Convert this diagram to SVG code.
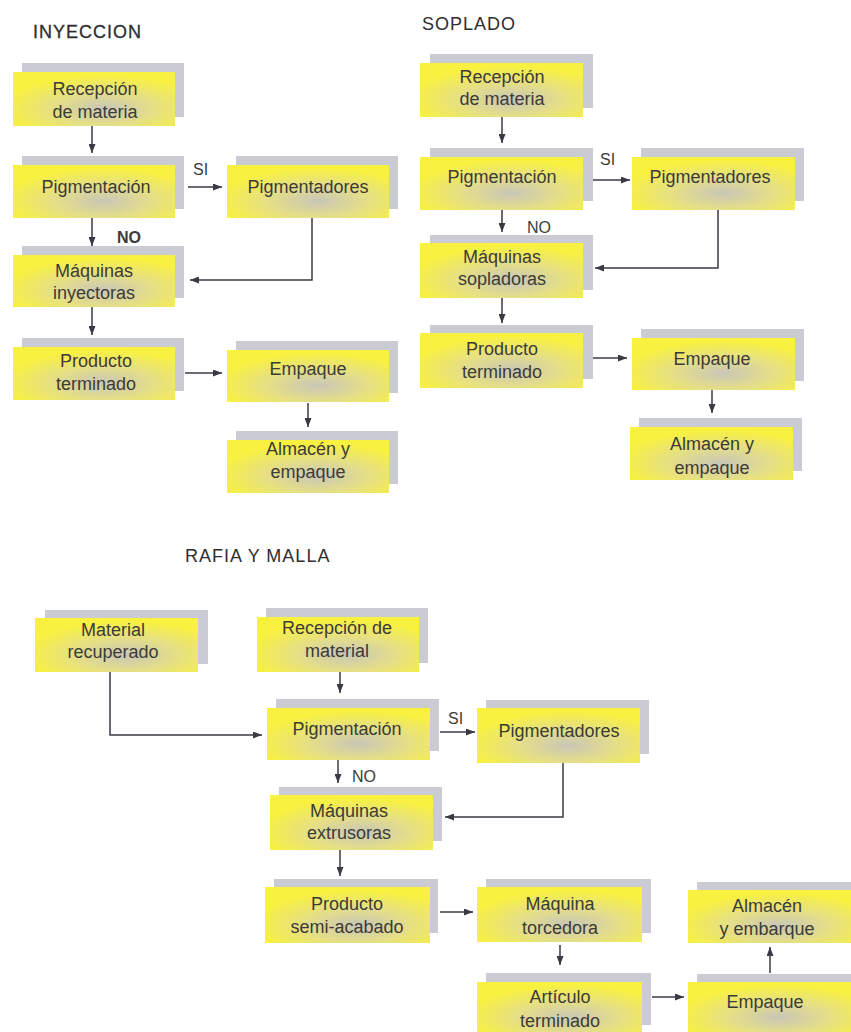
<svg xmlns="http://www.w3.org/2000/svg" width="851" height="1032" viewBox="0 0 851 1032">
<style>
.bk{fill:#cbcbd3}
.fr{fill:url(#yg)}
.t{font-family:"Liberation Sans",Arial,sans-serif;font-size:18px;fill:#3b3b38;text-anchor:middle}
.ttl{font-family:"Liberation Sans",Arial,sans-serif;font-size:18px;fill:#2e2e2e;letter-spacing:1px}
.lb{font-family:"Liberation Sans",Arial,sans-serif;font-size:16px;fill:#3b3b3b}
.c{fill:none;stroke:#3a3a44;stroke-width:1.5}
.a{marker-end:url(#ah)}
</style>
<defs>
<radialGradient id="yg" cx="0.56" cy="0.68" r="0.62">
<stop offset="0" stop-color="#c9c6b8"/>
<stop offset="0.5" stop-color="#e5df86"/>
<stop offset="1" stop-color="#f8f140"/>
</radialGradient>
<marker id="ah" markerWidth="9" markerHeight="7" refX="9" refY="3.5" orient="auto" markerUnits="userSpaceOnUse">
<path d="M0,0 L9,3.5 L0,7 z" fill="#3a3a44"/>
</marker>
</defs>
<rect width="851" height="1032" fill="#ffffff"/>

<text class="ttl" x="33" y="38" style="stroke:#2e2e2e;stroke-width:0.3">INYECCION</text>
<text class="ttl" x="422" y="30">SOPLADO</text>
<text class="ttl" x="185" y="562">RAFIA Y MALLA</text>

<g id="connectors">
<line class="c a" x1="92" y1="126" x2="92" y2="153"/>
<line class="c a" x1="188" y1="187" x2="222" y2="187"/>
<line class="c a" x1="92" y1="218" x2="92" y2="246"/>
<polyline class="c a" points="312,218 312,280 190,280"/>
<line class="c a" x1="92" y1="307" x2="92" y2="335"/>
<line class="c a" x1="185" y1="373" x2="222" y2="373"/>
<line class="c a" x1="308" y1="403" x2="308" y2="427"/>

<line class="c a" x1="502" y1="117" x2="502" y2="143"/>
<line class="c a" x1="593" y1="180" x2="630" y2="180"/>
<line class="c a" x1="502" y1="210" x2="502" y2="232"/>
<polyline class="c a" points="718,210 718,268 595,268"/>
<line class="c a" x1="502" y1="298" x2="502" y2="323"/>
<line class="c a" x1="593" y1="358" x2="627" y2="358"/>
<line class="c a" x1="712" y1="390" x2="712" y2="413"/>

<line class="c a" x1="340" y1="672" x2="340" y2="693"/>
<polyline class="c a" points="110,672 110,735 262,735"/>
<line class="c a" x1="440" y1="732" x2="475" y2="732"/>
<line class="c a" x1="338" y1="760" x2="338" y2="783"/>
<polyline class="c a" points="563,763 563,817 445,817"/>
<line class="c a" x1="340" y1="850" x2="340" y2="876"/>
<line class="c a" x1="440" y1="912" x2="473" y2="912"/>
<line class="c a" x1="560" y1="945" x2="560" y2="965"/>
<line class="c a" x1="652" y1="997" x2="684" y2="997"/>
<line class="c a" x1="770" y1="973" x2="770" y2="947"/>
</g>

<g id="labels">
<text class="lb" x="193" y="175">SI</text>
<text class="lb" x="117" y="243" style="font-weight:bold">NO</text>
<text class="lb" x="600" y="165">SI</text>
<text class="lb" x="527" y="233">NO</text>
<text class="lb" x="448" y="724">SI</text>
<text class="lb" x="352" y="782">NO</text>
</g>

<g id="i-recepcion"><rect class="bk" x="22" y="63" width="162" height="54"/><rect class="fr" x="13" y="72" width="162" height="54"/><text class="t" x="95" y="95">Recepción</text><text class="t" x="95" y="118">de materia</text></g>
<g id="i-pigmentacion"><rect class="bk" x="22" y="156" width="162" height="53"/><rect class="fr" x="13" y="165" width="162" height="53"/><text class="t" x="96" y="193">Pigmentación</text></g>
<g id="i-pigmentadores"><rect class="bk" x="236" y="156" width="162" height="53"/><rect class="fr" x="227" y="165" width="162" height="53"/><text class="t" x="308" y="193">Pigmentadores</text></g>
<g id="i-maquinas"><rect class="bk" x="22" y="246" width="162" height="52"/><rect class="fr" x="13" y="255" width="162" height="52"/><text class="t" x="94" y="277">Máquinas</text><text class="t" x="94" y="299">inyectoras</text></g>
<g id="i-producto"><rect class="bk" x="22" y="338" width="162" height="53"/><rect class="fr" x="13" y="347" width="162" height="53"/><text class="t" x="96" y="367">Producto</text><text class="t" x="96" y="390">terminado</text></g>
<g id="i-empaque"><rect class="bk" x="236" y="341" width="162" height="52"/><rect class="fr" x="227" y="350" width="162" height="52"/><text class="t" x="308" y="375">Empaque</text></g>
<g id="i-almacen"><rect class="bk" x="236" y="431" width="162" height="53"/><rect class="fr" x="227" y="440" width="162" height="53"/><text class="t" x="308" y="455">Almacén y</text><text class="t" x="308" y="478">empaque</text></g>

<g id="s-recepcion"><rect class="bk" x="430" y="54" width="163" height="54"/><rect class="fr" x="420" y="63" width="163" height="54"/><text class="t" x="502" y="83">Recepción</text><text class="t" x="502" y="105">de materia</text></g>
<g id="s-pigmentacion"><rect class="bk" x="430" y="148" width="163" height="53"/><rect class="fr" x="420" y="157" width="163" height="53"/><text class="t" x="502" y="183">Pigmentación</text></g>
<g id="s-pigmentadores"><rect class="bk" x="641" y="148" width="163" height="53"/><rect class="fr" x="632" y="157" width="163" height="53"/><text class="t" x="710" y="183">Pigmentadores</text></g>
<g id="s-maquinas"><rect class="bk" x="430" y="235" width="163" height="55"/><rect class="fr" x="420" y="243" width="163" height="55"/><text class="t" x="502" y="263">Máquinas</text><text class="t" x="502" y="285">sopladoras</text></g>
<g id="s-producto"><rect class="bk" x="430" y="325" width="163" height="54"/><rect class="fr" x="420" y="333" width="163" height="55"/><text class="t" x="502" y="355">Producto</text><text class="t" x="502" y="378">terminado</text></g>
<g id="s-empaque"><rect class="bk" x="641" y="329" width="163" height="52"/><rect class="fr" x="632" y="338" width="163" height="52"/><text class="t" x="712" y="365">Empaque</text></g>
<g id="s-almacen"><rect class="bk" x="639" y="418" width="163" height="53"/><rect class="fr" x="630" y="427" width="163" height="53"/><text class="t" x="712" y="450">Almacén y</text><text class="t" x="712" y="474">empaque</text></g>

<g id="r-material"><rect class="bk" x="45" y="610" width="163" height="54"/><rect class="fr" x="35" y="618" width="163" height="54"/><text class="t" x="113" y="636">Material</text><text class="t" x="113" y="658">recuperado</text></g>
<g id="r-recepcion"><rect class="bk" x="266" y="608" width="162" height="55"/><rect class="fr" x="257" y="617" width="162" height="55"/><text class="t" x="337" y="634">Recepción de</text><text class="t" x="337" y="657">material</text></g>
<g id="r-pigmentacion"><rect class="bk" x="276" y="699" width="163" height="52"/><rect class="fr" x="267" y="708" width="163" height="52"/><text class="t" x="347" y="735">Pigmentación</text></g>
<g id="r-pigmentadores"><rect class="bk" x="486" y="700" width="163" height="54"/><rect class="fr" x="477" y="708" width="163" height="55"/><text class="t" x="559" y="737">Pigmentadores</text></g>
<g id="r-maquinas"><rect class="bk" x="279" y="787" width="163" height="54"/><rect class="fr" x="270" y="795" width="163" height="55"/><text class="t" x="349" y="817">Máquinas</text><text class="t" x="349" y="839">extrusoras</text></g>
<g id="r-producto"><rect class="bk" x="274" y="879" width="164" height="54"/><rect class="fr" x="265" y="887" width="165" height="56"/><text class="t" x="347" y="910">Producto</text><text class="t" x="347" y="933">semi-acabado</text></g>
<g id="r-torcedora"><rect class="bk" x="486" y="879" width="165" height="54"/><rect class="fr" x="477" y="887" width="165" height="55"/><text class="t" x="560" y="910">Máquina</text><text class="t" x="560" y="934">torcedora</text></g>
<g id="r-articulo"><rect class="bk" x="486" y="973" width="165" height="52"/><rect class="fr" x="477" y="982" width="165" height="52"/><text class="t" x="560" y="1003">Artículo</text><text class="t" x="560" y="1027">terminado</text></g>
<g id="r-almacen"><rect class="bk" x="697" y="882" width="163" height="53"/><rect class="fr" x="688" y="890" width="163" height="53"/><text class="t" x="767" y="912">Almacén</text><text class="t" x="767" y="935">y embarque</text></g>
<g id="r-empaque"><rect class="bk" x="697" y="974" width="163" height="52"/><rect class="fr" x="688" y="982" width="163" height="52"/><text class="t" x="765" y="1008">Empaque</text></g>
</svg>
